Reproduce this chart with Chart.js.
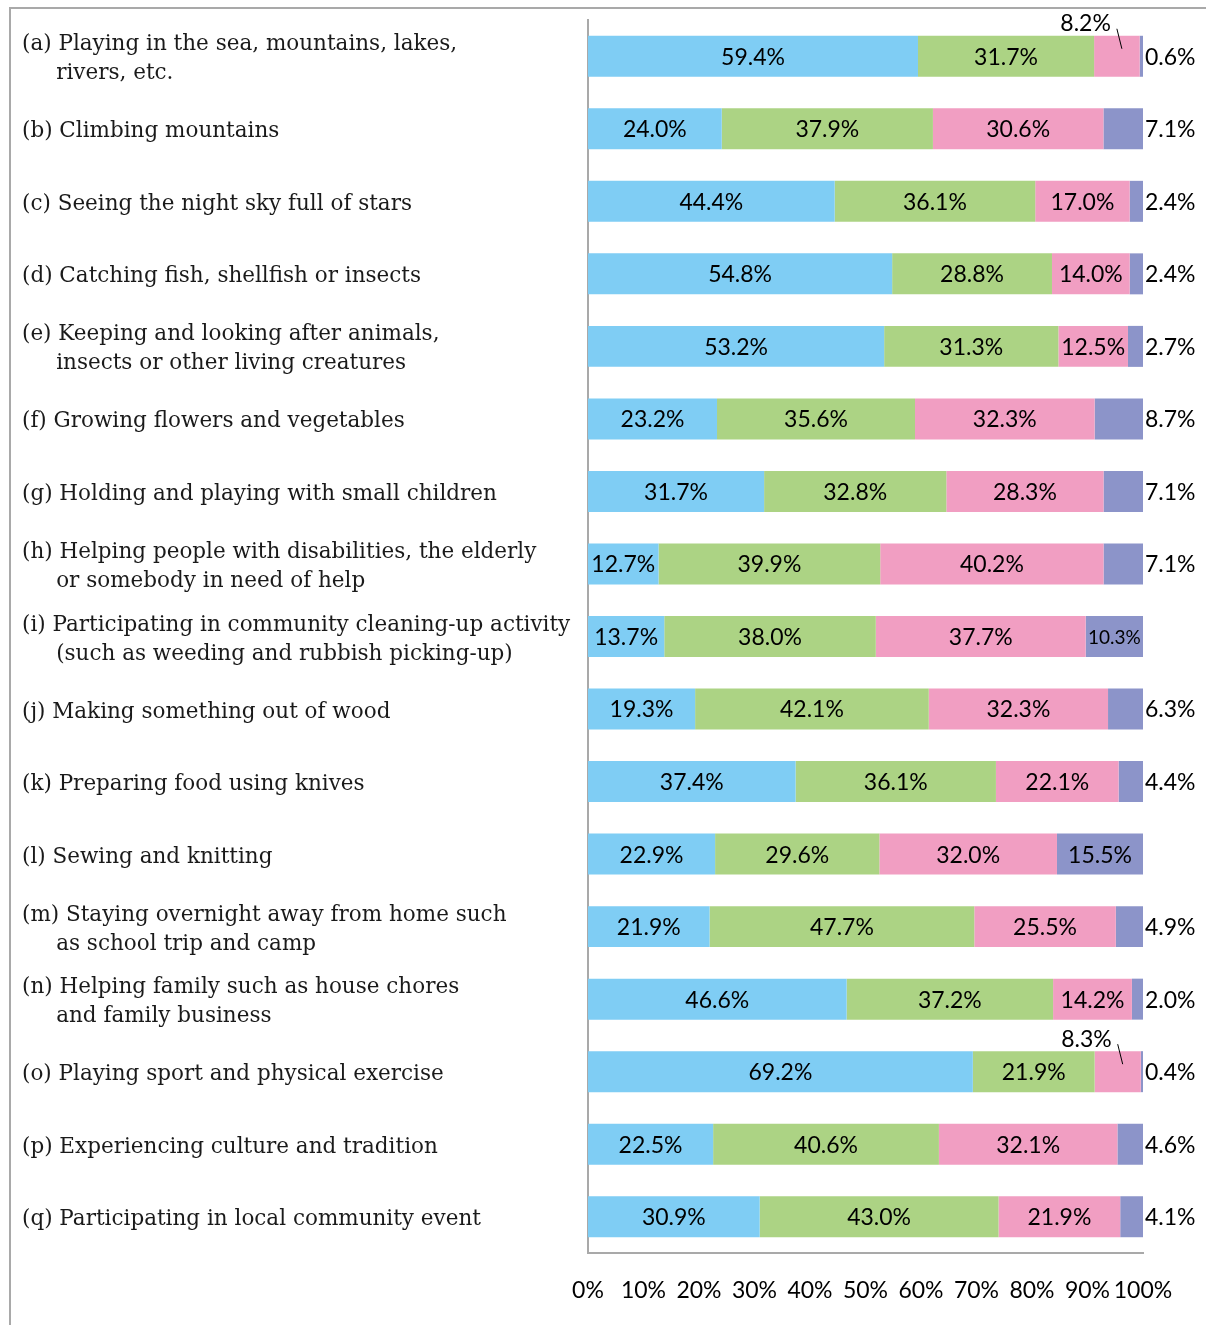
<!DOCTYPE html>
<html lang="en">
<head>
<meta charset="UTF-8">
<title>Experiences</title>
<script src="https://cdn.jsdelivr.net/npm/chart.js@4.4.0/dist/chart.umd.min.js"></script>
<style>
    body { margin: 0; background: #fff; }
    #wrap { position: relative; width: 1206px; height: 1325px; }
    #frame {
        position: absolute; left: 9px; top: 7px; right: 0; bottom: 0;
        border-left: 2px solid #a9a9a9; border-top: 2px solid #a9a9a9;
    }
    #chart { position: absolute; left: 0; top: 0; }
</style>
</head>
<body>
<div id="wrap">
    <div id="frame"></div>
    <canvas id="chart" width="1206" height="1325"></canvas>
</div>
<script>
// items (two-line ones are arrays, second line indented)
var items = [
    ["(a) Playing in the sea, mountains, lakes,", "     rivers, etc."],
    "(b) Climbing mountains",
    "(c) Seeing the night sky full of stars",
    "(d) Catching fish, shellfish or insects",
    ["(e) Keeping and looking after animals,", "     insects or other living creatures"],
    "(f) Growing flowers and vegetables",
    "(g) Holding and playing with small children",
    ["(h) Helping people with disabilities, the elderly", "     or somebody in need of help"],
    ["(i) Participating in community cleaning-up activity", "     (such as weeding and rubbish picking-up)"],
    "(j) Making something out of wood",
    "(k) Preparing food using knives",
    "(l) Sewing and knitting",
    ["(m) Staying overnight away from home such", "     as school trip and camp"],
    ["(n) Helping family such as house chores", "     and family business"],
    "(o) Playing sport and physical exercise",
    "(p) Experiencing culture and tradition",
    "(q) Participating in local community event"
]

var blueVals   = [59.4, 24.0, 44.4, 54.8, 53.2, 23.2, 31.7, 12.7, 13.7, 19.3, 37.4, 22.9, 21.9, 46.6, 69.2, 22.5, 30.9]
var greenVals  = [31.7, 37.9, 36.1, 28.8, 31.3, 35.6, 32.8, 39.9, 38.0, 42.1, 36.1, 29.6, 47.7, 37.2, 21.9, 40.6, 43.0]
var pinkVals   = [8.2, 30.6, 17.0, 14.0, 12.5, 32.3, 28.3, 40.2, 37.7, 32.3, 22.1, 32.0, 25.5, 14.2, 8.3, 32.1, 21.9]
var purpleVals = [0.6, 7.1, 2.4, 2.4, 2.7, 8.7, 7.1, 7.1, 10.3, 6.3, 4.4, 15.5, 4.9, 2.0, 0.4, 4.6, 4.1]

var xTicks = [0, 10, 20, 30, 40, 50, 60, 70, 80, 90, 100]

var colors = ['#7fcdf4', '#acd384', '#f19ec2', '#8c94c9']

// 100% stacked: scale each row to its total like the spreadsheet does
var series = [blueVals, greenVals, pinkVals, purpleVals]
var totals = items.map(function (_, i) {
    return series.reduce(function (s, arr) { return s + arr[i] }, 0)
})

var datasets = series.map(function (arr, k) {
    return {
        data: arr.map(function (v, i) { return v / totals[i] * 100 }),
        raw: arr,
        backgroundColor: colors[k],
        borderWidth: 0,
        categoryPercentage: 0.565,
        barPercentage: 1
    }
})

// value labels on the bars
var valueLabels = {
    id: 'valueLabels',
    afterDatasetsDraw: function (chart) {
        var ctx = chart.ctx
        ctx.save()
        ctx.fillStyle = '#000'
        ctx.strokeStyle = '#000'
        ctx.lineWidth = 1
        ctx.textBaseline = 'middle'
        chart.data.datasets.forEach(function (ds, di) {
            var meta = chart.getDatasetMeta(di)
            meta.data.forEach(function (bar, i) {
                var v = ds.raw[i]
                var txt = v.toFixed(1) + '%'
                var left = Math.min(bar.base, bar.x)
                var right = Math.max(bar.base, bar.x)
                var mid = (left + right) / 2
                var top = bar.y - bar.height / 2
                ctx.font = '23px Lato'
                if (di === 3 && v < 10) {
                    ctx.textAlign = 'left'
                    ctx.fillText(txt, right + 2, bar.y + 1)
                } else if (di === 2 && v < 10) {
                    ctx.textAlign = 'right'
                    ctx.fillText(txt, mid - 6, top - 12)
                    ctx.beginPath()
                    ctx.moveTo(mid, top - 7)
                    ctx.lineTo(mid + 5, top + 13)
                    ctx.stroke()
                } else {
                    // shrink the text when it does not fit in the segment
                    var w = ctx.measureText(txt).width
                    if (w > right - left - 2) {
                        var size = Math.floor(23 * (right - left - 2) / w)
                        ctx.font = size + 'px Lato'
                    }
                    ctx.textAlign = 'center'
                    ctx.fillText(txt, mid, bar.y + 1)
                }
            })
        })
        ctx.restore()
    }
}

new Chart(document.getElementById('chart'), {
    type: 'bar',
    data: { labels: items, datasets: datasets },
    plugins: [valueLabels],
    options: {
        responsive: false,
        animation: false,
        indexAxis: 'y',
        layout: { padding: { left: 22, top: 20, right: 63, bottom: 0 } },
        plugins: {
            legend: { display: false },
            tooltip: { enabled: false }
        },
        scales: {
            x: {
                stacked: true,
                min: 0,
                max: 100,
                afterBuildTicks: function (s) {
                    s.ticks = xTicks.map(function (v) { return { value: v } })
                },
                grid: { display: false, drawTicks: false },
                border: { display: true, color: '#a9a9a9', width: 2 },
                ticks: {
                    padding: 24,
                    color: '#000',
                    maxRotation: 0,
                    autoSkip: false,
                    font: { family: 'Lato', size: 23 },
                    callback: function (v) { return v + '%' }
                },
                afterFit: function (s) { s.height = 72 }
            },
            y: {
                stacked: true,
                grid: { display: false, drawTicks: false },
                border: { display: true, color: '#a9a9a9', width: 2 },
                ticks: {
                    crossAlign: 'far',
                    autoSkip: false,
                    padding: 0,
                    labelOffset: 3,
                    color: '#1a1a1a',
                    font: { family: 'DejaVu Serif', size: 21.5, lineHeight: 1.35 }
                },
                afterFit: function (s) { s.width = 566 }
            }
        }
    }
})
</script>
</body>
</html>
